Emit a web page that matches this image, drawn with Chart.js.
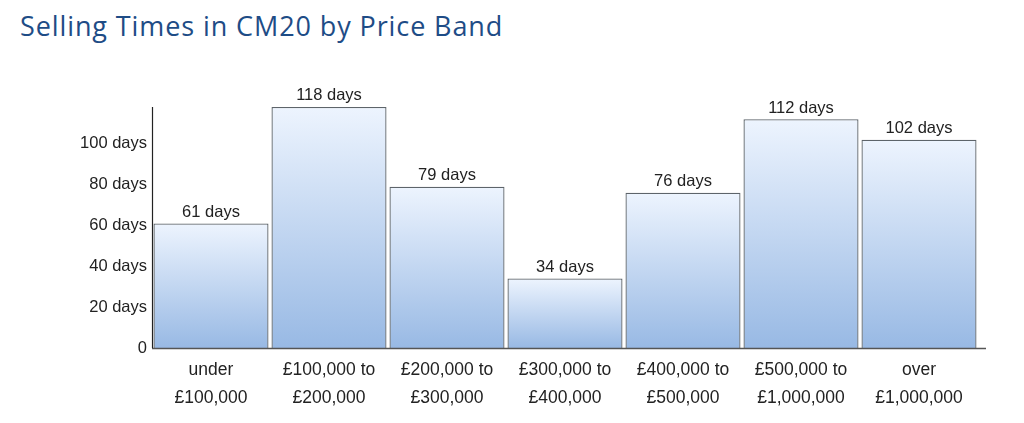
<!DOCTYPE html>
<html>
<head>
<meta charset="utf-8">
<script src="https://cdn.jsdelivr.net/npm/chart.js@4.4.0/dist/chart.umd.min.js"></script>
<style>
  html, body { margin: 0; padding: 0; background: #fff; }
  .wrap { position: relative; width: 1024px; height: 423px; }
  h2 {
    position: absolute; left: 20px; top: 7px; margin: 0;
    font-family: "Open Sans", sans-serif; font-weight: 500; font-size: 27px;
    color: #1e4c86; letter-spacing: 0.9px;
  }
  canvas { position: absolute; left: 0; top: 0; }
</style>
</head>
<body>
<div class="wrap">
  <h2>Selling Times in CM20 by Price Band</h2>
  <canvas id="chart" width="1024" height="423"></canvas>
</div>
<script>
// price bands (two-line labels)
const bands = [
  ['under', '£100,000'],
  ['£100,000 to', '£200,000'],
  ['£200,000 to', '£300,000'],
  ['£300,000 to', '£400,000'],
  ['£400,000 to', '£500,000'],
  ['£500,000 to', '£1,000,000'],
  ['over', '£1,000,000']
];
const sellingDays = [61, 118, 79, 34, 76, 112, 102];
const yTicks = [0, 20, 40, 60, 80, 100];

const FONT = '"Liberation Sans", Arial, sans-serif';

// bar gradient, light at the top of each bar
function barFill(ctx) {
  const chart = ctx.chart;
  const area = chart.chartArea;
  if (!area || ctx.raw == null) return '#c3d6f1';
  const y = chart.scales.y;
  const top = y.getPixelForValue(ctx.raw);
  const bottom = y.getPixelForValue(0);
  const g = chart.ctx.createLinearGradient(0, top, 0, bottom);
  g.addColorStop(0, '#edf4fe');
  g.addColorStop(1, '#98b9e4');
  return g;
}

// "N days" labels above bars
const valueLabels = {
  id: 'valueLabels',
  afterDatasetsDraw(chart) {
    const c = chart.ctx;
    const meta = chart.getDatasetMeta(0);
    c.save();
    c.font = '16.5px ' + FONT;
    c.fillStyle = '#222';
    c.textAlign = 'center';
    c.textBaseline = 'bottom';
    meta.data.forEach((bar, i) => {
      c.fillText(sellingDays[i] + ' days', bar.x, bar.y - 3);
    });
    c.restore();
  }
};

// axis lines; x line runs a little past the last bar
const axisLines = {
  id: 'axisLines',
  afterDraw(chart) {
    const a = chart.chartArea;
    const c = chart.ctx;
    c.save();
    c.strokeStyle = '#555';
    c.lineWidth = 1.5;
    c.beginPath();
    c.moveTo(a.left, a.bottom + 0.5);
    c.lineTo(a.right + 8, a.bottom + 0.5);
    c.stroke();
    c.strokeStyle = '#222';
    c.lineWidth = 1.2;
    c.beginPath();
    c.moveTo(a.left + 0.5, a.top);
    c.lineTo(a.left + 0.5, a.bottom);
    c.stroke();
    c.restore();
  }
};

new Chart(document.getElementById('chart'), {
  type: 'bar',
  data: {
    labels: bands,
    datasets: [{
      data: sellingDays,
      backgroundColor: barFill,
      borderColor: '#5d646a',
      borderWidth: 1.3,
      categoryPercentage: 1,
      barPercentage: 0.975
    }]
  },
  options: {
    responsive: false,
    animation: false,
    layout: { padding: { left: 0, right: 46, top: 107, bottom: 0 } },
    plugins: { legend: { display: false }, tooltip: { enabled: false } },
    scales: {
      x: {
        grid: { display: false, drawTicks: false },
        border: { display: false },
        ticks: {
          color: '#222',
          font: { family: FONT, size: 17.5, lineHeight: 1.55 },
          padding: 9,
          maxRotation: 0,
          autoSkip: false
        },
        afterFit(scale) { scale.height = 75; }
      },
      y: {
        min: 0,
        max: 118,
        afterBuildTicks(scale) { scale.ticks = yTicks.map(v => ({ value: v })); },
        grid: { display: false, drawTicks: false },
        border: { display: false },
        ticks: {
          color: '#222',
          font: { family: FONT, size: 16.5 },
          padding: 5,
          callback: v => v === 0 ? '0' : v + ' days'
        },
        afterFit(scale) { scale.width = 152; }
      }
    }
  },
  plugins: [valueLabels, axisLines]
});
</script>
</body>
</html>
